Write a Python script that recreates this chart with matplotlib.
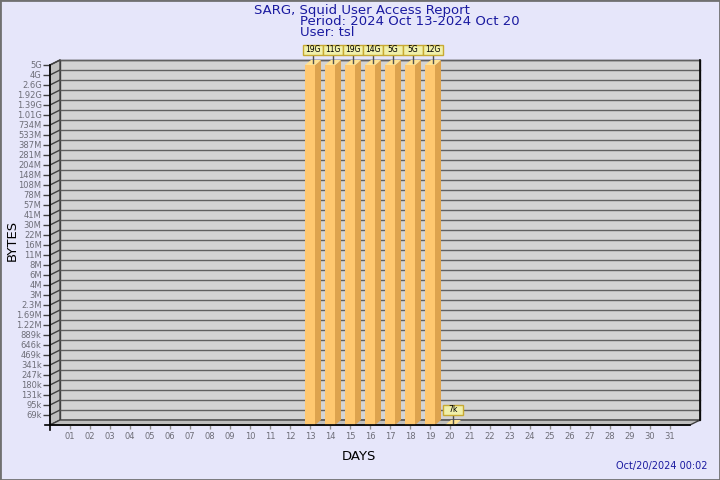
import matplotlib
matplotlib.use('Agg')
import matplotlib.pyplot as plt
import numpy as np
from matplotlib.patches import Polygon, Rectangle

# data
days = np.arange(1, 32)
day_labels = ['%02d' % d for d in days]
bar_days = [13, 14, 15, 16, 17, 18, 19, 20]
bar_bytes = [19e9, 11e9, 19e9, 14e9, 5e9, 5e9, 12e9, 7e3]
bar_labels = ['19G', '11G', '19G', '14G', '5G', '5G', '12G', '7k']
ytick_labels = ['69k', '95k', '131k', '180k', '247k', '341k', '469k', '646k', '889k',
                '1.22M', '1.69M', '2.3M', '3M', '4M', '6M', '8M', '11M', '16M', '22M',
                '30M', '41M', '57M', '78M', '108M', '148M', '204M', '281M', '387M',
                '533M', '734M', '1.01G', '1.39G', '1.92G', '2.6G', '4G', '5G']

mult = {'k': 1e3, 'M': 1e6, 'G': 1e9}
ytick_bytes = np.array([float(s[:-1]) * mult[s[-1]] for s in ytick_labels])
ytick_pos = np.arange(1, len(ytick_labels) + 1)
ntop = ytick_pos[-1]

# bytes -> position on the (log-like) axis, clipped to floor / top
bar_h = np.interp(np.log(bar_bytes), np.log(ytick_bytes), ytick_pos, left=0, right=ntop)

bg = '#E6E6FA'
dx, dy = 0.5, 0.5       # depth of the walls
bdx, bdy = 0.3, 0.5     # depth of the bars
bw = 0.25               # half width of bars

fig = plt.figure(figsize=(7.2, 4.8), dpi=100, facecolor=bg)
fig.patches.append(Rectangle((0, 0), 1, 1, transform=fig.transFigure, fill=False,
                             edgecolor='#707070', linewidth=2))
ax = fig.add_axes([50 / 720, 55 / 480, 640 / 720, 360 / 480])
ax.set_xlim(0, 32)
ax.set_ylim(0, ntop)
ax.patch.set_visible(False)
for s in ax.spines.values():
    s.set_visible(False)

# walls
ax.add_patch(Rectangle((dx, dy), 32, ntop, facecolor='#D3D3D3', edgecolor='#404040',
                       linewidth=1, clip_on=False, zorder=0))
ax.add_patch(Polygon([(0, 0), (dx, dy), (dx, ntop + dy), (0, ntop)], closed=True,
                     facecolor='#BEBEBE', edgecolor='#404040', linewidth=1,
                     clip_on=False, zorder=0))
ax.add_patch(Polygon([(0, 0), (32, 0), (32 + dx, dy), (dx, dy)], closed=True,
                     facecolor='#BEBEBE', edgecolor='#404040', linewidth=1,
                     clip_on=False, zorder=0))

# grid lines on back and side wall
for p in ytick_pos:
    ax.plot([dx, 32 + dx], [p + dy, p + dy], color='#606060', lw=1, clip_on=False, zorder=1)
    ax.plot([0, dx], [p, p + dy], color='#404040', lw=1, clip_on=False, zorder=1)

# front axis lines
ax.plot([0, 0], [-0.5, ntop], color='black', lw=1.2, clip_on=False, zorder=5)
ax.plot([-0.25, 32], [0, 0], color='black', lw=1.2, clip_on=False, zorder=5)
ax.plot([32 + dx, 32 + dx], [dy, ntop + dy], color='black', lw=1.2, clip_on=False, zorder=1)

# bars
for d, h, lab in zip(bar_days, bar_h, bar_labels):
    front = Rectangle((d - bw, 0), 2 * bw, h, facecolor='#FFC870', edgecolor='none', zorder=3)
    side = Polygon([(d + bw, 0), (d + bw + bdx, bdy), (d + bw + bdx, h + bdy), (d + bw, h)],
                   closed=True, facecolor='#DDA34E', edgecolor='none', zorder=3)
    top = Polygon([(d - bw, h), (d + bw, h), (d + bw + bdx, h + bdy), (d - bw + bdx, h + bdy)],
                  closed=True, facecolor='#FFE394', edgecolor='none', zorder=3)
    for p in (front, side, top):
        p.set_clip_on(False)
        ax.add_patch(p)
    cx, cy = d + bdx / 2, h + bdy / 2
    ax.plot([cx, cx], [cy, cy + 0.75], color='#505050', lw=1, clip_on=False, zorder=4)
    ax.add_patch(Rectangle((cx - 0.5, cy + 0.75), 1.0, 1.0, facecolor='#F0F0AA',
                           edgecolor='#C8AA32', linewidth=1, clip_on=False, zorder=6))
    ax.text(cx, cy + 1.25, lab, ha='center', va='center', fontsize=5.5, color='black',
            zorder=7, clip_on=False)

# ticks
ax.set_yticks(ytick_pos)
ax.set_yticklabels(ytick_labels)
ax.tick_params(axis='y', direction='out', length=5, width=1, color='#404040',
               labelcolor='#6E6E78', labelsize=6, pad=1)
ax.set_xticks(days)
ax.set_xticklabels(day_labels)
ax.tick_params(axis='x', direction='out', length=3, width=1, color='#909090',
               labelcolor='#6E6E78', labelsize=6, pad=2)

# texts
tc = '#1A1AA0'
fig.text(362 / 720, 1 - 10.5 / 480, 'SARG, Squid User Access Report', ha='center', va='center',
         fontsize=9.5, color=tc)
fig.text(300 / 720, 1 - 21.5 / 480, 'Period: 2024 Oct 13-2024 Oct 20', ha='left', va='center',
         fontsize=9.5, color=tc)
fig.text(300 / 720, 1 - 32.5 / 480, 'User: tsl', ha='left', va='center', fontsize=9.5, color=tc)
fig.text(12 / 720, 1 - 240 / 480, 'BYTES', rotation=90, ha='center', va='center',
         fontsize=9.5, color='black')
fig.text(359 / 720, 1 - 456 / 480, 'DAYS', ha='center', va='center', fontsize=9.5, color='black')
fig.text(708 / 720, 1 - 466 / 480, 'Oct/20/2024 00:02', ha='right', va='center',
         fontsize=7, color=tc)

fig.savefig('out.png', dpi=100, facecolor=bg)
